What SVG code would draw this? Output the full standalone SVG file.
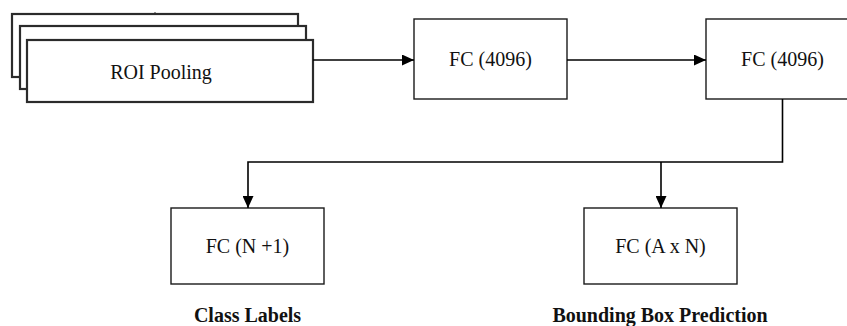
<svg xmlns="http://www.w3.org/2000/svg" width="847" height="326" viewBox="0 0 847 326">
  <style>
    .box { fill: #ffffff; stroke: #1a1a1a; stroke-width: 1.4; }
    .stack { fill: #ffffff; stroke: #2b2b2b; stroke-width: 2.2; }
    .wire { fill: none; stroke: #000000; stroke-width: 1.6; }
    text { font-family: 'Liberation Serif', 'DejaVu Serif', serif; font-size: 20px; fill: #111111; text-anchor: middle; }
    .caption { font-weight: bold; }
  </style>
  <defs>
    <marker id="arrow" viewBox="0 0 12 11" refX="12" refY="5.5" markerWidth="12" markerHeight="11" markerUnits="userSpaceOnUse" orient="auto">
      <path d="M0,0 L12,5.5 L0,11 Z" fill="#000000"/>
    </marker>
  </defs>

  <rect width="847" height="326" fill="#ffffff"/>

  <!-- stacked ROI pooling layers -->
  <g id="roi-pooling">
    <rect class="stack" x="12" y="14" width="286" height="63"/>
    <line x1="155" y1="12" x2="155" y2="14" stroke="#2b2b2b" stroke-width="1"/>
    <rect class="stack" x="20" y="26" width="286" height="63"/>
    <rect class="stack" x="27" y="40" width="286" height="62"/>
    <text x="161" y="79" font-family="Liberation Serif, serif">ROI Pooling</text>
  </g>

  <g id="fc1">
    <rect class="box" x="414" y="19" width="153" height="80"/>
    <text x="490.5" y="66" font-family="Liberation Serif, serif">FC (4096)</text>
  </g>

  <g id="fc2">
    <rect class="box" x="706" y="19" width="153" height="80"/>
    <text x="782.5" y="66" font-family="Liberation Serif, serif">FC (4096)</text>
  </g>

  <g id="fc-class">
    <rect class="box" x="171" y="208" width="153" height="76"/>
    <text x="247.5" y="253" font-family="Liberation Serif, serif">FC (N +1)</text>
    <text class="caption" x="247.5" y="322" font-family="Liberation Serif, serif">Class Labels</text>
  </g>

  <g id="fc-bbox">
    <rect class="box" x="584" y="208" width="153" height="76"/>
    <text x="660.5" y="253" font-family="Liberation Serif, serif">FC (A x N)</text>
    <text class="caption" x="660" y="322" font-family="Liberation Serif, serif">Bounding Box Prediction</text>
  </g>

  <g id="connectors">
    <line class="wire" x1="313" y1="60" x2="414" y2="60" marker-end="url(#arrow)"/>
    <line class="wire" x1="567" y1="60" x2="706" y2="60" marker-end="url(#arrow)"/>
    <polyline class="wire" points="782.5,99 782.5,162 248,162 248,208" marker-end="url(#arrow)"/>
    <line class="wire" x1="661" y1="162" x2="661" y2="208" marker-end="url(#arrow)"/>
  </g>
</svg>
